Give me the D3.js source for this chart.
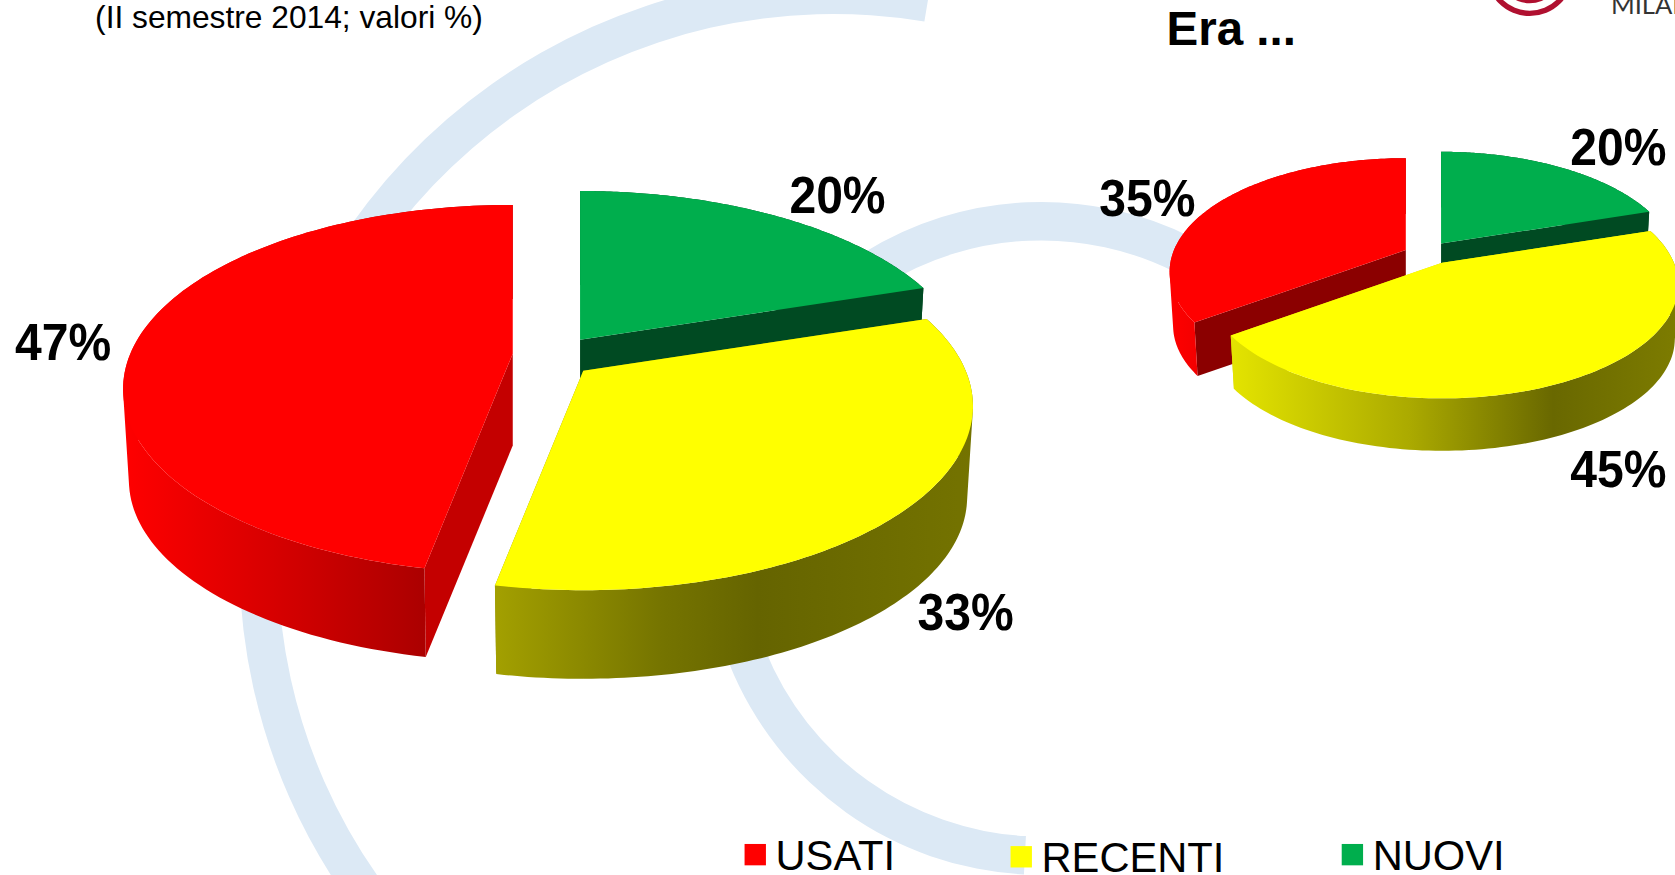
<!DOCTYPE html>
<html>
<head>
<meta charset="utf-8">
<script src="https://cdn.jsdelivr.net/npm/d3@7"></script>
<style>
  html, body { margin: 0; padding: 0; background: #fff; overflow: hidden; }
  text { font-family: "Liberation Sans", Arial, sans-serif; fill: #000; }
</style>
</head>
<body>
<div id="chart"></div>
<script>
  const CATEGORIES = ["USATI", "RECENTI", "NUOVI"];
  const VALUES_NOW = [47, 33, 20];
  const VALUES_BEFORE = [35, 45, 20];
  const SUBTITLE = "(II semestre 2014; valori %)";
  const BEFORE_TITLE = "Era ...";

  const W = 1568, H = 819; // drawn in the coords of the shrunk picture
  const TAU = Math.PI * 2;
  const PERSP = 0.192;

  const colors = d3.scaleOrdinal().domain(CATEGORIES).range(["#ff0000", "#ffff00", "#00ae4d"]);

  const svg = d3.select("#chart").append("svg")
    .attr("width", 1675)
    .attr("height", 875)
    .attr("viewBox", `0 0 ${W} ${H}`);

  const defs = svg.append("defs");

  ////////////////////////////////////////////////////////////
  ////////////////// Background swirl ////////////////////////
  ////////////////////////////////////////////////////////////

  const deg = d => d * Math.PI / 180;
  const swirl = [
    { cx: 775, cy: 524, r: 533, w: 36, from: 235, to: 280 },
    { cx: 780, cy: 530, r: 535, w: 36, from: 280, to: 369.5 },
    { cx: 975, cy: 504, r: 297, w: 36, from: -32, to: 27 },
    { cx: 975, cy: 504, r: 297, w: 36, from: 183, to: 248 }
  ];
  svg.selectAll("path.swirl")
    .data(swirl)
    .enter().append("path")
    .attr("class", "swirl")
    .attr("fill", "#dce9f5")
    .attr("transform", d => `translate(${d.cx},${d.cy})`)
    .attr("d", d => d3.arc()
      .innerRadius(d.r - d.w / 2)
      .outerRadius(d.r + d.w / 2)
      .startAngle(deg(d.from))
      .endAngle(deg(d.to))());

  ////////////////////////////////////////////////////////////
  ////////////////// Pseudo 3D pie ///////////////////////////
  ////////////////////////////////////////////////////////////

  // perspective projection of a point on the unit disc, a = clockwise from 12 o'clock
  function project(a, c, rx, ry, depth) {
    const u = Math.sin(a), v = -Math.cos(a);
    const s = 1 / (1 - PERSP * v);
    const k = depth ? 0.985 : 1;
    return [c[0] + rx * u * s * k, c[1] + ry * v * s * k + depth];
  }

  // the side is swept from small quads, all turned the same way so they don't cancel out
  function sweptPath(top, bottom) {
    const line = d3.line();
    return d3.range(top.length - 1).map(k => {
      const quad = [top[k], top[k + 1], bottom[k + 1], bottom[k]];
      if (d3.polygonArea(quad) < 0) quad.reverse();
      return line(quad) + "Z";
    }).join("");
  }

  function drawPie(id, values, cfg) {
    const pie = d3.pie().sort(null).startAngle(TAU).endAngle(0)(values);
    const line = d3.line();
    const g = svg.append("g").attr("class", id);

    // painting order of the reference: red, green, then yellow on top
    [0, 2, 1].forEach(i => {
      const slice = pie[i];
      const name = CATEGORIES[i];
      const c = cfg.centers[i];
      const a0 = Math.min(slice.startAngle, slice.endAngle);
      const a1 = Math.max(slice.startAngle, slice.endAngle);
      const angles = d3.range(0, 121).map(k => a0 + (a1 - a0) * k / 120);
      const top = angles.map(a => project(a, c, cfg.rx, cfg.ry, 0));
      const bottom = angles.map(a => project(a, c, cfg.rx, cfg.ry, cfg.depth));
      const apexB = [c[0], c[1] + cfg.depth];

      // cut faces
      [0, 120].forEach(k => {
        g.append("path")
          .attr("fill", cfg.cut[i])
          .attr("d", line([c, top[k], bottom[k], apexB]) + "Z");
      });

      // outer face with its shading
      const xs = top.concat(bottom).map(p => p[0]);
      const gradId = `${id}-wall-${i}`;
      const grad = defs.append("linearGradient")
        .attr("id", gradId)
        .attr("gradientUnits", "userSpaceOnUse")
        .attr("x1", d3.min(xs)).attr("x2", d3.max(xs))
        .attr("y1", 0).attr("y2", 0);
      cfg.wall[i].forEach(([o, col]) => grad.append("stop").attr("offset", o).attr("stop-color", col));
      g.append("path")
        .attr("fill", `url(#${gradId})`)
        .attr("d", sweptPath(top, bottom));

      // top face
      g.append("path")
        .attr("class", "slice")
        .attr("fill", colors(name))
        .attr("d", line([c].concat(top)) + "Z");
    });

    // value labels
    g.selectAll("text")
      .data(values)
      .enter().append("text")
      .attr("transform", (_, i) => `translate(${cfg.labels[i][0]},${cfg.labels[i][1]}) scale(1,1.08)`)
      .attr("text-anchor", "middle")
      .attr("font-size", 45)
      .attr("font-weight", "bold")
      .text(d => d + "%");
  }

  drawPie("now", VALUES_NOW, {
    centers: [[480, 331], [546, 347], [543, 318]],
    rx: 358, ry: 166, depth: 86,
    labels: [[59, 337], [904, 590], [784, 199]],
    cut: ["#c40000", "#8c8a00", "#004a22"],
    wall: [
      [[0, "#ff0000"], [0.45, "#d00000"], [0.8, "#a80000"], [1, "#a00000"]],
      [[0, "#a3a000"], [0.35, "#757400"], [0.55, "#656400"], [1, "#747300"]],
      [[0, "#004a22"], [1, "#004a22"]]
    ]
  });

  drawPie("before", VALUES_BEFORE, {
    centers: [[1316, 234], [1350, 246], [1349, 228]],
    rx: 217, ry: 102.5, depth: 51,
    labels: [[1074, 202], [1515, 456], [1515, 154]],
    cut: ["#8b0000", "#d8d800", "#004a22"],
    wall: [
      [[0, "#ff0000"], [0.15, "#f00000"], [1, "#a00000"]],
      [[0, "#e4e400"], [0.4, "#abaa00"], [0.72, "#696800"], [1, "#7d7c00"]],
      [[0, "#004a22"], [1, "#004a22"]]
    ]
  });

  ////////////////////////////////////////////////////////////
  ////////////////// Titles, legend, logo ////////////////////
  ////////////////////////////////////////////////////////////

  svg.append("text")
    .attr("x", 89).attr("y", 26)
    .attr("font-size", 29.7)
    .text(SUBTITLE);

  svg.append("text")
    .attr("x", 1092).attr("y", 42)
    .attr("font-size", 44.5)
    .attr("font-weight", "bold")
    .text(BEFORE_TITLE);

  const legendX = d3.scaleOrdinal().domain(CATEGORIES).range([697, 946, 1256]);
  const legendY = d3.scaleOrdinal().domain(CATEGORIES).range([790, 792, 790]);
  const legend = svg.selectAll("g.legend")
    .data(CATEGORIES)
    .enter().append("g")
    .attr("class", "legend")
    .attr("transform", d => `translate(${legendX(d)},${legendY(d)})`);
  legend.append("rect")
    .attr("width", 20).attr("height", 20)
    .attr("fill", d => colors(d));
  legend.append("text")
    .attr("x", 29).attr("y", 24)
    .attr("font-size", 39)
    .text(d => d);

  // logo, cut by the top of the page in the reference
  const logo = svg.append("g").attr("transform", "translate(1432,-26)");
  logo.append("path").attr("fill", "#b01030")
    .attr("d", d3.arc().innerRadius(36).outerRadius(41).startAngle(0).endAngle(TAU)());
  logo.append("path").attr("fill", "#b01030")
    .attr("d", d3.arc().innerRadius(0).outerRadius(29).startAngle(0).endAngle(TAU)());
  svg.append("text")
    .attr("x", 1508).attr("y", 13)
    .style("font-family", "Lato")
    .style("fill", "#333")
    .attr("font-size", 24)
    .text("MILANO");
</script>
</body>
</html>
